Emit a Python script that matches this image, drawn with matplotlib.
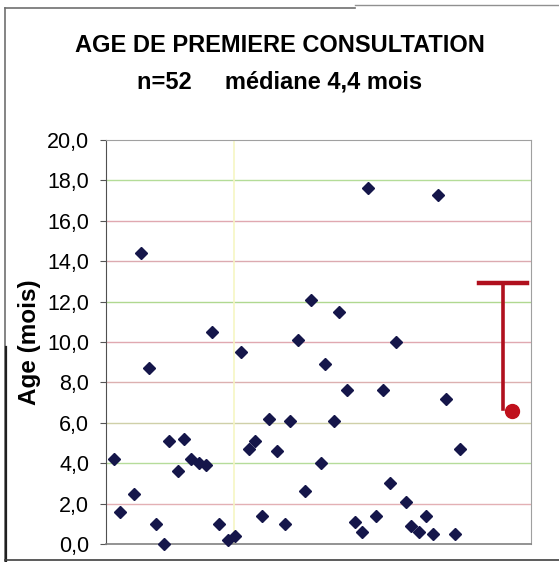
import numpy as np
import matplotlib
matplotlib.use("Agg")
import matplotlib.pyplot as plt
from matplotlib.lines import Line2D

plt.rcParams['font.family'] = ['Liberation Sans', 'DejaVu Sans']

# rang du patient (position horizontale) et age a la premiere consultation (mois)
rang = [1.1, 2.0, 3.9, 4.9, 6.0, 7.0, 8.1, 8.8, 10.0, 10.8,
        11.8, 12.9, 13.9, 14.7, 15.7, 16.9, 17.9, 18.7, 19.8, 20.7,
        21.7, 22.6, 23.7, 24.8, 25.6, 26.6, 27.6, 28.5, 29.8, 30.4,
        31.6, 32.4, 33.5, 34.5, 35.6, 36.4, 37.5, 38.4, 39.4, 40.3,
        41.6, 42.4, 43.5, 44.4, 45.4, 46.1, 47.2, 48.4, 49.2]
age = [4.2, 1.6, 2.5, 14.4, 8.7, 1.0, 0.0, 5.1, 3.6, 5.2,
       4.2, 4.0, 3.9, 10.5, 1.0, 0.2, 0.4, 9.5, 4.7, 5.1,
       1.4, 6.2, 4.6, 1.0, 6.1, 10.1, 2.6, 12.1, 4.0, 8.9,
       6.1, 11.5, 7.6, 1.1, 0.6, 17.6, 1.4, 7.6, 3.0, 10.0,
       2.1, 0.9, 0.6, 1.4, 0.5, 17.3, 7.2, 0.5, 4.7]

mediane = 6.6          # point rouge
pos_mediane = 56.3
haut_barre = 12.9      # barre rouge
barre_x = 55.1
barre_cap = (51.8, 58.5)

yticks = np.arange(0, 21, 2)
ytick_labels = [("%.1f" % v).replace('.', ',') for v in yticks]
grid_colors = {2: '#e3b0b4', 4: '#b6dc9a', 6: '#cfd0a8', 8: '#dcb0b0', 10: '#e0a8b0',
               12: '#b0d890', 14: '#dcaab0', 16: '#e0a8b0', 18: '#b4dc98'}

fig = plt.figure(figsize=(5.59, 5.62), dpi=100)
ax = fig.add_axes([0.1896, 0.032, 0.7603, 0.7189])

ax.set_xlim(0, 59)
ax.set_ylim(0, 20)

for v, c in grid_colors.items():
    ax.axhline(v, color=c, lw=1.0, zorder=1)
ax.axvline(17.8, color='#f6f6c4', lw=1.2, zorder=1)

ax.plot(rang, age, 'D', color='#15164a', markersize=6.5, clip_on=False, zorder=3)

# mediane + barre
ax.plot([barre_x, barre_x], [mediane + 0.1, haut_barre], color='#b0101e', lw=2.6, zorder=3)
ax.plot(barre_cap, [haut_barre, haut_barre], color='#b0101e', lw=3.2, zorder=3)
ax.plot([pos_mediane], [mediane], 'o', color='#c0101c', markersize=10, zorder=4)

ax.set_yticks(yticks)
ax.set_yticklabels(ytick_labels, fontsize=15.5)
ax.set_xticks([])
ax.tick_params(axis='y', length=4, width=0.8, color='#555555', pad=8)
ax.set_ylabel('Age (mois)', fontsize=17.5, fontweight='bold')
ax.yaxis.set_label_coords(-0.153, 0.5)

for s in ['top', 'right']:
    ax.spines[s].set_color('#a0a0a0')
ax.spines['left'].set_color('#505050')
ax.spines['bottom'].set_color('#808080')
ax.spines['bottom'].set_linewidth(1.2)

fig.text(0.5, 0.9075, 'AGE DE PREMIERE CONSULTATION', ha='center', va='baseline',
         fontsize=17, fontweight='bold')
fig.text(0.5, 0.8434, 'n=52     médiane 4,4 mois', ha='center', va='baseline',
         fontsize=17, fontweight='bold')

# cadre
fig.add_artist(Line2D([0.009, 0.009], [0.0, 0.986], color='#707070', lw=1.2))
fig.add_artist(Line2D([0.009, 0.635], [0.986, 0.986], color='#707070', lw=1.2))
fig.add_artist(Line2D([0.635, 1.0], [0.991, 0.991], color='#909090', lw=1.0))
fig.add_artist(Line2D([0.011, 0.011], [0.0, 0.383], color='#202020', lw=1.6))
fig.add_artist(Line2D([0.009, 1.0], [0.004, 0.004], color='#404040', lw=1.2))

fig.savefig('out.png', dpi=100)
